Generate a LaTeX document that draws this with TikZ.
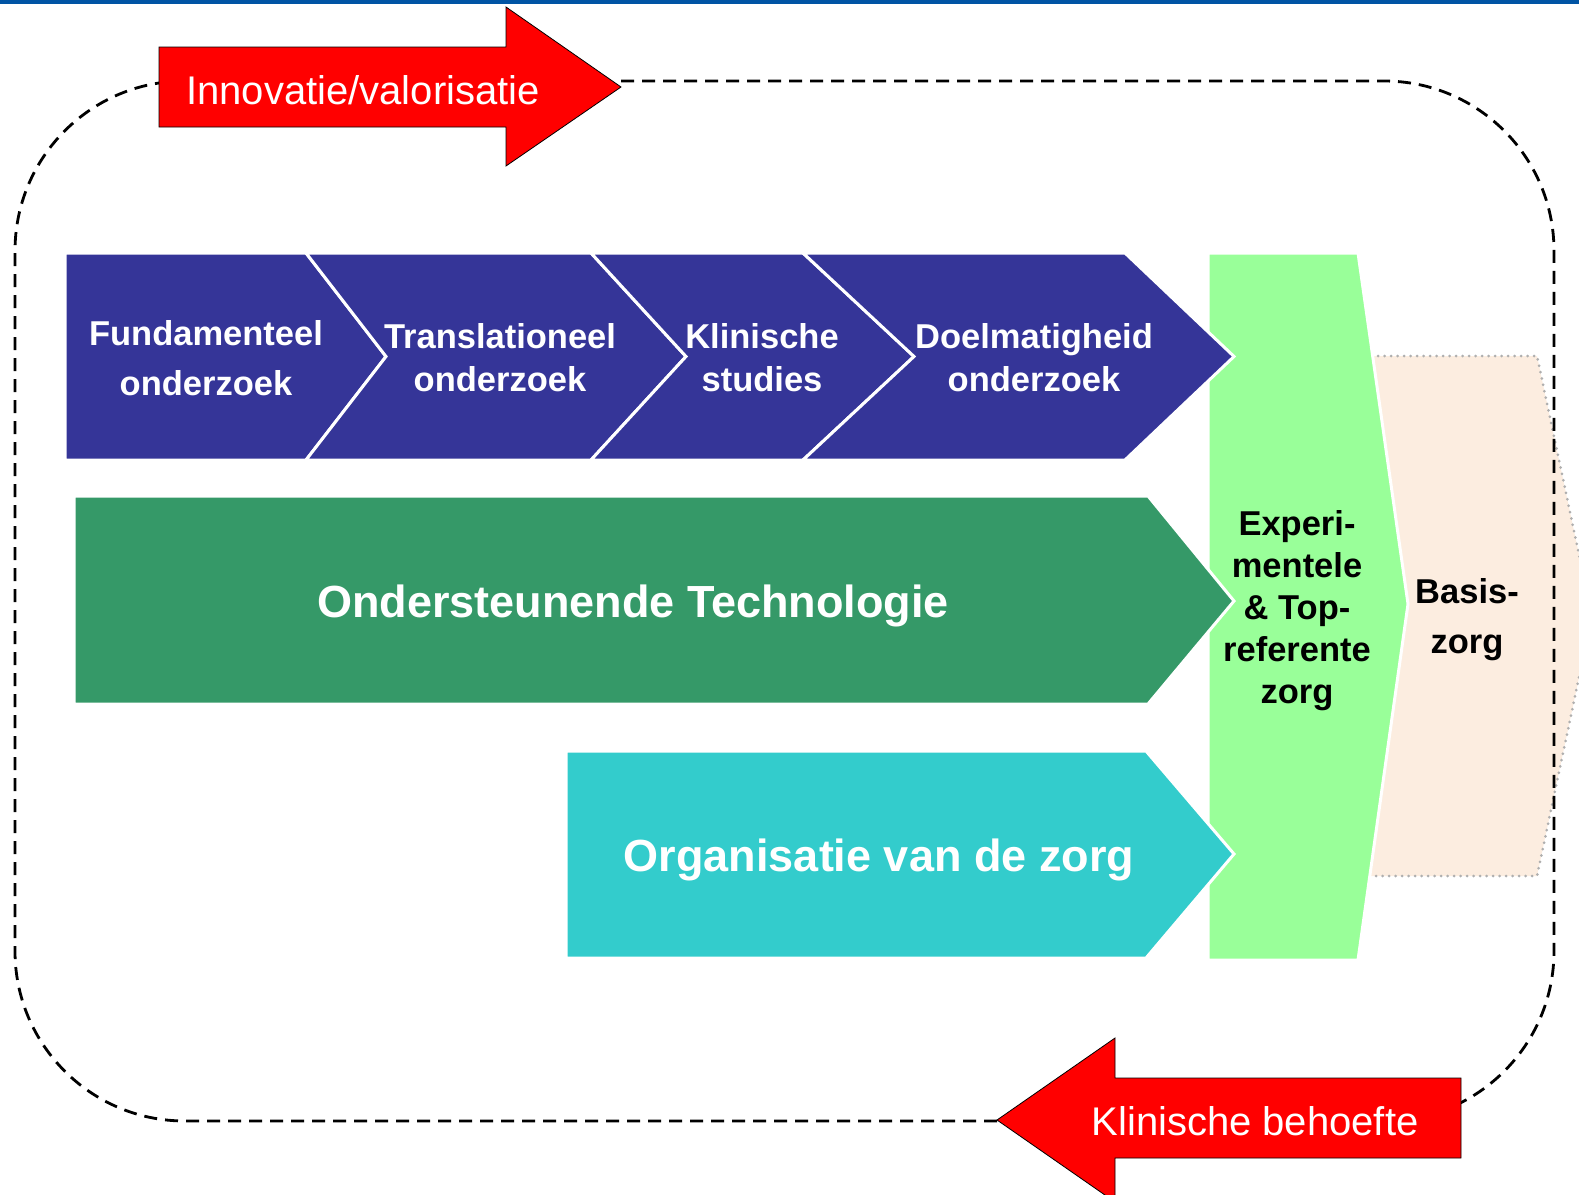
\documentclass[tikz,border=0pt]{standalone}
\usepackage{fontspec}
\setmainfont{Liberation Sans}
\usepackage{tikz}
\usetikzlibrary{positioning,calc}
\usepackage{xcolor}
\definecolor{ribbonblue} {RGB}{  0,  84, 164}
\definecolor{chevblue}   {RGB}{ 53,  53, 152}
\definecolor{chevgreen}  {RGB}{ 53, 153, 104}
\definecolor{chevcyan}   {RGB}{ 51, 204, 204}
\definecolor{carelight}  {RGB}{153, 255, 153}
\definecolor{basepeach}  {RGB}{252, 237, 224}
\definecolor{dotgray}    {RGB}{175, 175, 175}
\definecolor{signalred}  {RGB}{255,   0,   0}

\begin{document}
\begin{tikzpicture}[
  x=1pt,y=-1pt,
  chev/.style={draw=white,line width=3pt,line join=miter},
  bluechev/.style={chev,fill=chevblue},
  chevtext/.style={text=white,align=center,inner sep=0pt,
                   font=\bfseries\fontsize{34.5}{43}\selectfont},
  bigtext/.style={text=white,inner sep=0pt,
                  font=\bfseries\fontsize{45}{54}\selectfont},
  caretext/.style={text=black,align=center,inner sep=0pt,
                   font=\bfseries\fontsize{34.5}{42}\selectfont},
  redarrow/.style={fill=signalred,draw=black,line width=0.8pt},
  redtext/.style={text=white,inner sep=0pt,font=\fontsize{40}{48}\selectfont},
  loopline/.style={draw=black,line width=2.8pt,dash pattern=on 13pt off 8pt,
                   rounded corners=170pt},
]
\useasboundingbox (0,0) rectangle (1579,1194);
\clip (0,0) rectangle (1579,1194);

%% ── Top rule ─────────────────────────────────────────────────────────────
\fill[ribbonblue] (0,0) rectangle (1579,4);

%% ── Basiszorg (behind) ───────────────────────────────────────────────────
\fill[basepeach] (1365,356) -- (1537,356) -- (1592,616) -- (1537,876)
  -- (1365,876) -- cycle;
\draw[dotgray,line width=3pt,line cap=round,dash pattern=on 0pt off 6.5pt]
  (1378,356) -- (1537,356) -- (1592,616) -- (1537,876) -- (1375,876);
\node[caretext,font=\bfseries\fontsize{34.5}{50}\selectfont] (basis) at (1467,620)
  {Basis-\\zorg};

%% ── Experimentele & topreferente zorg ────────────────────────────────────
\filldraw[fill=carelight,draw=white,line width=3pt]
  (1208,253) -- (1358,253) -- (1408,604) -- (1358,960) -- (1208,960) -- cycle;
\node[caretext] (topzorg) at (1297,611)
  {Experi-\\mentele\\\& Top-\\referente\\zorg};

%% ── Research chain ───────────────────────────────────────────────────────
\filldraw[bluechev] (65,253) -- (306,253) -- (386,356.5) -- (306,460)
  -- (65,460) -- cycle;
\filldraw[bluechev] (306,253) -- (591,253) -- (686,356.5) -- (591,460)
  -- (306,460) -- (386,356.5) -- cycle;
\filldraw[bluechev] (591,253) -- (803,253) -- (914,356.5) -- (803,460)
  -- (591,460) -- (686,356.5) -- cycle;
\filldraw[bluechev] (803,253) -- (1125,253) -- (1234,356.5) -- (1125,460)
  -- (803,460) -- (914,356.5) -- cycle;

\node[chevtext,font=\bfseries\fontsize{34.5}{50}\selectfont] (fund) at (206,358)
  {Fundamenteel\\onderzoek};
\node[chevtext] (transl) at (500,358) {Translationeel\\onderzoek};
\node[chevtext] (klinst) at (762,358) {Klinische\\studies};
\node[chevtext] (doelm) at (1034,358) {Doelmatigheid\\onderzoek};

%% ── Technologie / organisatie ────────────────────────────────────────────
\filldraw[chev,fill=chevgreen] (74,496) -- (1148,496) -- (1234,601)
  -- (1148,704) -- (74,704) -- cycle;
\node[bigtext] (techn) at (633,606) {Ondersteunende Technologie};

\filldraw[chev,fill=chevcyan] (566,751) -- (1146,751) -- (1234,854)
  -- (1146,958) -- (566,958) -- cycle;
\node[bigtext] (organ) at (879,860) {Organisatie van de zorg};

%% ── Cycle ────────────────────────────────────────────────────────────────
\coordinate (innoend) at (621,81);
\coordinate (klinend) at (997,1121);

\draw[loopline] (innoend) -- (1554,81) -- (1554,1121) -- (1300,1121);
\draw[loopline] (klinend) -- (15,1121) -- (15,81) -- (320,81);

\filldraw[redarrow] (159,47) -- (506,47) -- (506,7) -- (621,87) -- (506,166)
  -- (506,127) -- (159,127) -- cycle;
\node[redtext] (inno) at (363,90) {Innovatie/valorisatie};

\filldraw[redarrow] (1461,1078) -- (1115,1078) -- (1115,1038) -- (997,1120)
  -- (1115,1202) -- (1115,1158) -- (1461,1158) -- cycle;
\node[redtext] (klin) at (1255,1121) {Klinische behoefte};

\end{tikzpicture}
\end{document}
